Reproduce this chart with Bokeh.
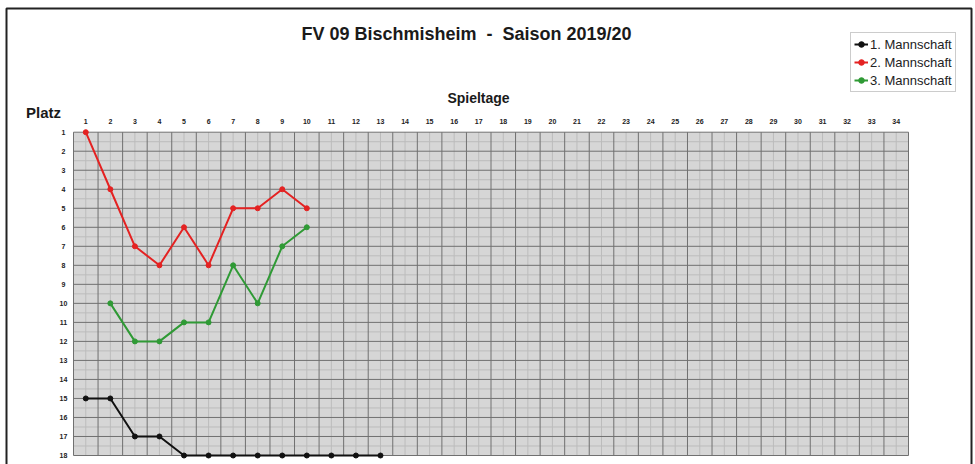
from bokeh.plotting import figure
from bokeh.models import Legend, LegendItem, Range1d, BoxAnnotation
from bokeh.core.properties import value
from bokeh.embed import file_html
from bokeh.resources import INLINE

# ---------------- data ----------------
title_text = "FV 09 Bischmisheim \u00a0-\u00a0 Saison 2019/20"
x_title = "Spieltage"
y_title = "Platz"

spieltage = list(range(1, 35))
plaetze = list(range(1, 19))

team_names = ["1. Mannschaft", "2. Mannschaft", "3. Mannschaft"]
team1_days = [1, 2, 3, 4, 5, 6, 7, 8, 9, 10, 11, 12, 13]
team1_place = [15, 15, 17, 17, 18, 18, 18, 18, 18, 18, 18, 18, 18]
team2_days = [1, 2, 3, 4, 5, 6, 7, 8, 9, 10]
team2_place = [1, 4, 7, 8, 6, 8, 5, 5, 4, 5]
team3_days = [2, 3, 4, 5, 6, 7, 8, 9, 10]
team3_place = [10, 12, 12, 11, 11, 8, 10, 7, 6]

colors = ["#111111", "#e42222", "#2f9a35"]

# ---------------- layout (page pixels) ----------------
W, H = 975, 464
BD_L, BD_R, BD_T = 6, 971, 8                   # outer chart border lines
PA_L, PA_R, PA_T, PA_B = 73, 908, 131.7, 455   # plot area

x0, x1 = min(spieltage) - 0.5, max(spieltage) + 0.5
y0, y1 = min(plaetze), max(plaetze)
ppx = (PA_R - PA_L) / (x1 - x0)
ppy = (PA_B - PA_T) / (y1 - y0)


def px2x(px):
    return x0 + (px - PA_L) / ppx


def py2y(py):
    return y0 + (py - PA_T) / ppy


p = figure(width=W, height=H, output_backend="svg", toolbar_location=None,
           x_range=Range1d(px2x(0), px2x(W)),
           y_range=Range1d(py2y(H), py2y(0)),
           min_border_left=0, min_border_right=0,
           min_border_top=0, min_border_bottom=0)
p.axis.visible = False
p.grid.visible = False
p.background_fill_color = "white"
p.border_fill_color = "white"
p.outline_line_color = None

# outer chart border (bottom edge lies outside the picture)
p.line(x=[px2x(BD_L), px2x(BD_L), px2x(BD_R), px2x(BD_R)],
       y=[py2y(H + 5), py2y(BD_T), py2y(BD_T), py2y(H + 5)],
       line_color="#222222", line_width=2)

# plot area background
p.add_layout(BoxAnnotation(left=x0, right=x1, top=y0, bottom=y1,
                           fill_color="#d6d6d6", fill_alpha=1,
                           line_color=None, level="underlay"))

# minor grid
half_places = [v + 0.5 for v in plaetze[:-1]]
p.segment(x0=spieltage, x1=spieltage, y0=[y0] * len(spieltage), y1=[y1] * len(spieltage),
          line_color="#bcbcbc", line_width=1)
p.segment(x0=[x0] * len(half_places), x1=[x1] * len(half_places), y0=half_places, y1=half_places,
          line_color="#bcbcbc", line_width=1)
# major grid
bounds_x = [d - 0.5 for d in spieltage] + [x1]
p.segment(x0=bounds_x, x1=bounds_x, y0=[y0] * len(bounds_x), y1=[y1] * len(bounds_x),
          line_color="#707070", line_width=1)
p.segment(x0=[x0] * len(plaetze), x1=[x1] * len(plaetze), y0=plaetze, y1=plaetze,
          line_color="#707070", line_width=1)

# tick labels
tick_style = dict(text_font=value("Liberation Sans"), text_font_style="bold",
                  text_font_size="7px", text_color="#222222",
                  text_align="center", text_baseline="middle")
p.text(x=spieltage, y=[py2y(121)] * len(spieltage), text=[str(d) for d in spieltage], **tick_style)
p.text(x=[px2x(63)] * len(plaetze), y=plaetze, text=[str(v) for v in plaetze], **tick_style)

# series
renderers = []
for days, places, c in ((team1_days, team1_place, colors[0]),
                        (team2_days, team2_place, colors[1]),
                        (team3_days, team3_place, colors[2])):
    ln = p.line(days, places, line_color=c, line_width=2)
    sc = p.scatter(days, places, marker="circle", size=5, fill_color=c, line_color=c)
    renderers.append([ln, sc])

legend = Legend(items=[LegendItem(label=n, renderers=r) for n, r in zip(team_names, renderers)],
                location=(850, H - 92), orientation="vertical",
                label_text_font="Liberation Sans", label_text_font_size="13px",
                label_text_color="#222222",
                glyph_width=14, glyph_height=16, label_height=16, label_standoff=2,
                spacing=2, padding=3, margin=0,
                border_line_color="#9a9a9a", border_line_width=1,
                background_fill_color="white", background_fill_alpha=1)
p.add_layout(legend)

# titles
title_style = dict(text_font=value("Liberation Sans"), text_font_style="bold",
                   text_color="#1a1a1a", text_align="center", text_baseline="middle")
p.text(x=[px2x(466)], y=[py2y(33)], text=[title_text], text_font_size="18px", **title_style)
p.text(x=[px2x(478)], y=[py2y(97)], text=[x_title], text_font_size="14px", **title_style)
p.text(x=[px2x(43)], y=[py2y(112)], text=[y_title], text_font_size="15px", **title_style)

open("out.html", "w").write(file_html(p, INLINE))
